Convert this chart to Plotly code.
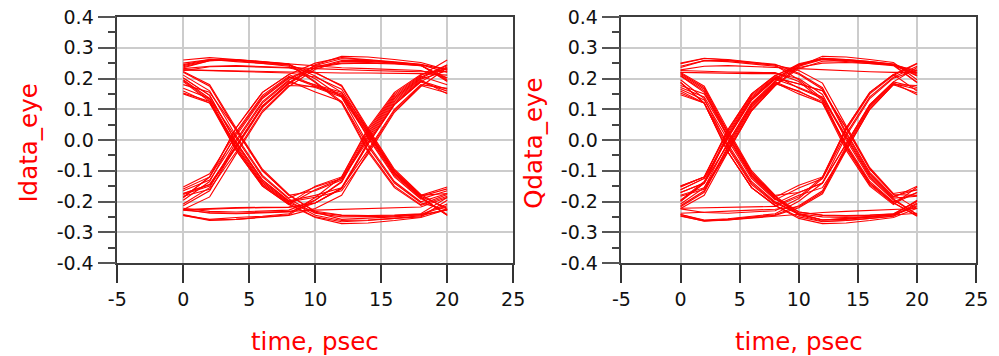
import plotly.graph_objects as go

# Sample instants inside one 20 ps eye window
sample_times_ps = [0, 2, 4, 6, 8, 10, 12, 14, 16, 18, 20]

# I-channel waveform, 2 ps per sample; every 10 samples start a new 20 ps window
i_wave = [
    0.250, 0.262, 0.255, 0.250, 0.243, 0.220, 0.175, 0.033, -0.100, -0.180,
    -0.153, -0.110, 0.026, 0.145, 0.207, 0.174, 0.145, 0.020, -0.110, -0.186,
    -0.245, -0.258, -0.252, -0.248, -0.240, -0.187, -0.120, 0.039, 0.155, 0.213,
    0.232, 0.240, 0.242, 0.240, 0.236, 0.232, 0.228, 0.226, 0.224, 0.222,
    0.223, 0.180, 0.039, -0.095, -0.177, -0.235, -0.258, -0.255, -0.250, -0.242,
    -0.228, -0.224, -0.222, -0.220, -0.219, -0.205, -0.158, -0.013, 0.115, 0.189,
    0.159, 0.120, -0.013, -0.135, -0.201, -0.186, -0.165, -0.046, 0.090, 0.174,
    0.235, 0.258, 0.262, 0.255, 0.248, 0.190, 0.125, -0.033, -0.150, -0.210,
    -0.177, -0.150, -0.026, 0.105, 0.183, 0.236, 0.248, 0.250, 0.247, 0.242,
    0.196, 0.135, -0.020, -0.140, -0.204, -0.236, -0.245, -0.248, -0.246, -0.242,
    -0.208, -0.155, -0.007, 0.120, 0.192, 0.156, 0.125, -0.020, -0.140, -0.204,
    -0.228, -0.236, -0.238, -0.236, -0.232, -0.228, -0.225, -0.222, -0.220, -0.218,
    -0.187, -0.120, 0.039, 0.155, 0.213, 0.250, 0.268, 0.262, 0.254, 0.246,
    0.228, 0.226, 0.224, 0.222, 0.220, 0.219, 0.218, 0.218, 0.217, 0.216,
    0.211, 0.160, 0.013, -0.115, -0.189, -0.153, -0.125, 0.026, 0.145, 0.207,
    0.180, 0.155, 0.033, -0.100, -0.180, -0.165, -0.130, 0.000, 0.125, 0.195,
    0.150, 0.120, -0.033, -0.150, -0.210, -0.252, -0.272, -0.270, -0.262, -0.252,
    -0.226, -0.185, -0.046, 0.090, 0.174, 0.230, 0.255, 0.256, 0.250, 0.242,
    0.202, 0.145, -0.007, -0.130, -0.198, -0.245, -0.262, -0.260, -0.255, -0.250,
    -0.196, -0.135, 0.020, 0.140, 0.204, 0.180, 0.155, 0.033, -0.100, -0.180,
    -0.174, -0.145, -0.020, 0.110, 0.186, 0.245, 0.272, 0.270, 0.262, 0.252,
    0.228, 0.225, 0.222, 0.220, 0.218, 0.205, 0.165, 0.026, -0.105, -0.183,
    -0.222, -0.232, -0.234, -0.232, -0.228, -0.195, -0.138, 0.013, 0.135, 0.201,
    0.242, 0.260, 0.258, 0.250, 0.240, 0.199, 0.140, -0.013, -0.135, -0.201,
    -0.174, -0.145, -0.020, 0.110, 0.186, 0.171, 0.140, 0.013, -0.115, -0.189,
    -0.245, -0.262, -0.258, -0.252, -0.245, -0.223, -0.180, -0.039, 0.095, 0.177,
    0.153, 0.125, -0.026, -0.145, -0.207, -0.150, -0.120, 0.033, 0.150, 0.210,
    0.260, 0.268, 0.262, 0.254, 0.246, 0.208, 0.155, 0.007, -0.120, -0.192,
    -0.165, -0.130, 0.000, 0.125, 0.195, 0.242, 0.264, 0.260, 0.253, 0.245,
    0.220, 0.175, 0.033, -0.100, -0.180, -0.232, -0.244, -0.246, -0.244, -0.240,
    -0.187, -0.120, 0.039, 0.155, 0.213, 0.177, 0.150, 0.026, -0.105, -0.183,
    -0.159, -0.120, 0.013, 0.135, 0.201, 0.240, 0.250, 0.252, 0.249, 0.244,
    0.193, 0.130, -0.026, -0.145, -0.207, -0.250, -0.266, -0.262, -0.255, -0.246,
    -0.226, -0.222, -0.220, -0.219, -0.218, -0.205, -0.158, -0.013, 0.115, 0.189,
    0.238, 0.258, 0.260, 0.252, 0.245, 0.187, 0.120, -0.039, -0.155, -0.213,
    -0.183, -0.160, -0.039, 0.095, 0.177, 0.174, 0.145, 0.020, -0.110, -0.186,
    -0.242, -0.260, -0.258, -0.250, -0.243, -0.196, -0.135, 0.020, 0.140, 0.204,
    0.245, 0.262, 0.260, 0.254, 0.246, 0.240, 0.235, 0.232, 0.229, 0.226,
    0.202, 0.145, -0.007, -0.130, -0.198, -0.180, -0.155, -0.033, 0.100, 0.180,
    0.168, 0.135, 0.007, -0.120, -0.192, -0.238, -0.250, -0.250, -0.248, -0.243,
    -0.214, -0.165, -0.020, 0.110, 0.186, 0.236, 0.258, 0.258, 0.252, 0.244,
    0.190, 0.125, -0.033, -0.150, -0.210, -0.162, -0.125, 0.007, 0.130, 0.198,
    0.225, 0.238, 0.240, 0.238, 0.234, 0.218, 0.178, 0.039, -0.095, -0.177,
    -0.225, -0.238, -0.240, -0.238, -0.234, -0.205, -0.155, -0.007, 0.120, 0.192,
    0.165,
]

# Q-channel waveform, same sampling
q_wave = [
    -0.150, -0.120, 0.033, 0.150, 0.210, 0.245, 0.265, 0.260, 0.252, 0.245,
    0.217, 0.170, 0.026, -0.105, -0.183, -0.234, -0.245, -0.248, -0.245, -0.241,
    -0.199, -0.140, 0.013, 0.135, 0.201, 0.183, 0.160, 0.039, -0.095, -0.177,
    -0.180, -0.155, -0.033, 0.100, 0.180, 0.236, 0.250, 0.252, 0.249, 0.244,
    0.226, 0.223, 0.221, 0.220, 0.219, 0.190, 0.128, -0.026, -0.145, -0.207,
    -0.171, -0.140, -0.013, 0.115, 0.189, 0.156, 0.125, -0.020, -0.140, -0.204,
    -0.248, -0.263, -0.258, -0.250, -0.243, -0.214, -0.165, -0.020, 0.110, 0.186,
    0.147, 0.120, -0.039, -0.155, -0.213, -0.255, -0.272, -0.270, -0.262, -0.252,
    -0.222, -0.220, -0.218, -0.217, -0.216, -0.185, -0.120, 0.039, 0.155, 0.213,
    0.250, 0.266, 0.260, 0.252, 0.244, 0.226, 0.185, 0.046, -0.090, -0.174,
    -0.162, -0.125, 0.007, 0.130, 0.198, 0.171, 0.140, 0.013, -0.115, -0.189,
    -0.183, -0.160, -0.039, 0.095, 0.177, 0.240, 0.272, 0.270, 0.262, 0.252,
    0.196, 0.135, -0.020, -0.140, -0.204, -0.242, -0.260, -0.256, -0.250, -0.242,
    -0.214, -0.165, -0.020, 0.110, 0.186, 0.150, 0.120, -0.033, -0.150, -0.210,
    -0.153, -0.120, 0.026, 0.145, 0.207, 0.248, 0.266, 0.260, 0.252, 0.244,
    0.208, 0.155, 0.007, -0.120, -0.192, -0.240, -0.260, -0.256, -0.250, -0.244,
    -0.238, -0.234, -0.230, -0.228, -0.225, -0.217, -0.170, -0.026, 0.105, 0.183,
    0.165, 0.130, 0.000, -0.125, -0.195, -0.156, -0.125, 0.020, 0.140, 0.204,
    0.240, 0.258, 0.255, 0.248, 0.240, 0.214, 0.165, 0.020, -0.110, -0.186,
    -0.150, -0.120, 0.033, 0.150, 0.210, 0.168, 0.135, 0.007, -0.120, -0.192,
    -0.242, -0.260, -0.256, -0.248, -0.240, -0.199, -0.140, 0.013, 0.135, 0.201,
    0.228, 0.240, 0.242, 0.240, 0.236, 0.232, 0.228, 0.225, 0.222, 0.220,
    0.220, 0.175, 0.033, -0.100, -0.180, -0.171, -0.140, -0.013, 0.115, 0.189,
    0.171, 0.140, 0.013, -0.115, -0.189, -0.234, -0.244, -0.246, -0.244, -0.240,
    -0.199, -0.140, 0.013, 0.135, 0.201, 0.245, 0.262, 0.256, 0.250, 0.242,
    0.187, 0.120, -0.039, -0.155, -0.213, -0.180, -0.155, -0.033, 0.100, 0.180,
    0.177, 0.150, 0.026, -0.105, -0.183, -0.245, -0.264, -0.262, -0.255, -0.248,
    -0.208, -0.155, -0.007, 0.120, 0.192, 0.245, 0.266, 0.262, 0.255, 0.246,
    0.210, 0.160, 0.013, -0.115, -0.189, -0.240, -0.260, -0.258, -0.250, -0.243,
    -0.196, -0.135, 0.020, 0.140, 0.204, 0.183, 0.160, 0.039, -0.095, -0.177,
    -0.224, -0.236, -0.238, -0.235, -0.230, -0.190, -0.125, 0.033, 0.150, 0.210,
    0.248, 0.265, 0.262, 0.254, 0.246, 0.217, 0.170, 0.026, -0.105, -0.183,
    -0.162, -0.125, 0.007, 0.130, 0.198, 0.244, 0.264, 0.262, 0.255, 0.247,
    0.220, 0.218, 0.217, 0.216, 0.216, 0.200, 0.148, 0.000, -0.125, -0.195,
    -0.242, -0.262, -0.260, -0.252, -0.245, -0.220, -0.175, -0.033, 0.100, 0.180,
    0.153, 0.120, -0.026, -0.145, -0.207, -0.171, -0.140, -0.013, 0.115, 0.189,
    0.236, 0.258, 0.258, 0.250, 0.243, 0.196, 0.135, -0.020, -0.140, -0.204,
    -0.246, -0.264, -0.260, -0.254, -0.246, -0.240, -0.236, -0.232, -0.229, -0.226,
    -0.223, -0.180, -0.039, 0.095, 0.177, 0.232, 0.256, 0.258, 0.252, 0.244,
    0.214, 0.165, 0.020, -0.110, -0.186, -0.147, -0.120, 0.039, 0.155, 0.213,
    0.159, 0.120, -0.013, -0.135, -0.201, -0.240, -0.250, -0.252, -0.249, -0.244,
    -0.217, -0.170, -0.026, 0.105, 0.183, 0.159, 0.120, -0.013, -0.135, -0.201,
    -0.171, -0.140, -0.013, 0.115, 0.189, 0.240, 0.262, 0.260, 0.253, 0.245,
    0.187, 0.120, -0.039, -0.155, -0.213, -0.250, -0.266, -0.262, -0.255, -0.247,
    -0.205,
]

x_tick_vals = [-5, 0, 5, 10, 15, 20, 25]
x_tick_text = ["-5", "0", "5", "10", "15", "20", "25"]
y_tick_vals = [-0.4, -0.3, -0.2, -0.1, 0.0, 0.1, 0.2, 0.3, 0.4]
y_tick_text = ["-0.4", "-0.3", "-0.2", "-0.1", "0.0", "0.1", "0.2", "0.3", "0.4"]

x_title = "time, psec"
y_titles = ["Idata_eye", "Qdata_eye"]

TRACE_RED = "#ff0000"
FONT = "DejaVu Sans"
W, H = 999, 356
TOP, BOTTOM = 17, 93


def fold(wave, step=10):
    """Cut a sampled waveform into overlapping 20 ps windows (eye folding)."""
    xs, ys = [], []
    for start in range(0, len(wave) - step, step):
        seg = wave[start:start + step + 1]
        xs.extend(sample_times_ps + [None])
        ys.extend(seg + [None])
    return xs, ys


fig = go.Figure()
for wave, xa, ya in ((i_wave, "x", "y"), (q_wave, "x2", "y2")):
    xs, ys = fold(wave)
    fig.add_trace(go.Scatter(
        x=xs, y=ys, mode="lines", xaxis=xa, yaxis=ya,
        line=dict(color=TRACE_RED, width=1.1),
        showlegend=False, hoverinfo="skip", connectgaps=False,
    ))

tick_font = dict(family=FONT, size=19, color="#111111")
common_x = dict(
    range=[-5, 25], tickmode="array", tickvals=x_tick_vals, ticktext=x_tick_text,
    ticks="outside", ticklen=18, tickwidth=2, tickcolor="#333333",
    showline=True, linecolor="#3c3c3c", linewidth=1.5, mirror=True,
    showgrid=True, gridcolor="#cccccc", gridwidth=1.5, zeroline=False,
    tickfont=tick_font,
)
common_y = dict(
    range=[-0.4, 0.4], tickmode="array", tickvals=y_tick_vals, ticktext=y_tick_text,
    ticks="outside", ticklen=18, tickwidth=2, tickcolor="#555555",
    minor=dict(tickmode="linear", tick0=-0.45, dtick=0.1, ticks="outside",
               ticklen=8, tickwidth=1.5, tickcolor="#444444", showgrid=False),
    showline=True, linecolor="#3c3c3c", linewidth=1.5, mirror=True,
    showgrid=True, gridcolor="#cccccc", gridwidth=1.5, zeroline=False,
    tickfont=tick_font,
)

left_dom = [110.6 / W, 515.0 / W]
right_dom = [625.6 / W, 988.0 / W]

fig.update_layout(
    width=W, height=H, autosize=False,
    margin=dict(l=0, r=0, t=TOP, b=BOTTOM, pad=0),
    paper_bgcolor="white", plot_bgcolor="white",
    xaxis=dict(domain=left_dom, anchor="y", **common_x),
    yaxis=dict(domain=[0, 1], anchor="x", **common_y),
    xaxis2=dict(domain=right_dom, anchor="y2", **common_x),
    yaxis2=dict(domain=[0, 1], anchor="x2", **common_y),
)

plot_h = H - TOP - BOTTOM


def py(pixel_y):
    return (H - BOTTOM - pixel_y) / plot_h


title_font = dict(family=FONT, size=24.5, color=TRACE_RED)
for dom, ytitle, yx in ((left_dom, y_titles[0], 19), (right_dom, y_titles[1], 535)):
    fig.add_annotation(
        text=x_title, xref="paper", yref="paper",
        x=(dom[0] + dom[1]) / 2, y=py(341), xanchor="center", yanchor="middle",
        showarrow=False, font=title_font,
    )
    fig.add_annotation(
        text=ytitle, xref="paper", yref="paper", textangle=-90,
        x=yx / W, y=py(143), xanchor="center", yanchor="middle",
        showarrow=False, font=title_font,
    )

fig.write_html("out.html")
